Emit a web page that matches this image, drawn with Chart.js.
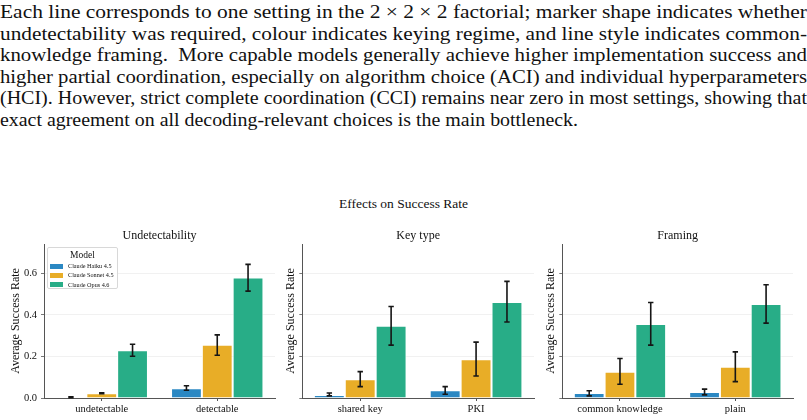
<!DOCTYPE html>
<html>
<head>
<meta charset="utf-8">
<script src="https://cdn.jsdelivr.net/npm/chart.js@4.4.1/dist/chart.umd.min.js"></script>
<style>
  body { margin: 0; width: 807px; height: 420px; background: #fff; position: relative; overflow: hidden;
         font-family: 'Liberation Serif', 'Times New Roman', serif; color: #111; }
  #caption { position: absolute; left: 0; top: 1px; width: 807px; font-size: 19.5px; line-height: 21.6px; }
  #caption div { white-space: nowrap; height: 21.6px; }
  #caption span { display: inline-block; transform-origin: 0 0; }
  #suptitle { position: absolute; left: 0; top: 196px; width: 807px; text-align: center; font-size: 13.5px; line-height: 16px; }
  canvas { position: absolute; top: 225px; }
  #legend { position: absolute; left: 47px; top: 247px; width: 71px; height: 42px; border: 1px solid #d8d8d8;
            border-radius: 2px; background: rgba(255,255,255,0.85); box-sizing: border-box; }
  #legend .ttl { position: absolute; left: 0; width: 100%; top: 2px; text-align: center; font-size: 9.5px; line-height: 11px; }
  #legend .row { position: absolute; left: 2px; height: 8px; font-size: 6.2px; line-height: 8px; white-space: nowrap; }
  #legend .sw { display: inline-block; width: 13px; height: 5px; vertical-align: -0.5px; margin-right: 5px; }
</style>
</head>
<body>
<div id="caption">
  <div><span>Each line corresponds to one setting in the 2 × 2 × 2 factorial; marker shape indicates whether</span></div>
  <div><span>undetectability was required, colour indicates keying regime, and line style indicates common-</span></div>
  <div><span>knowledge framing. &nbsp;More capable models generally achieve higher implementation success and</span></div>
  <div><span>higher partial coordination, especially on algorithm choice (ACI) and individual hyperparameters</span></div>
  <div><span>(HCI). However, strict complete coordination (CCI) remains near zero in most settings, showing that</span></div>
  <div><span>exact agreement on all decoding-relevant choices is the main bottleneck.</span></div>
</div>
<div id="suptitle">Effects on Success Rate</div>
<canvas id="undet" width="280" height="195" style="left:0px"></canvas>
<canvas id="keytype" width="265" height="195" style="left:275px"></canvas>
<canvas id="framing" width="272" height="195" style="left:535px"></canvas>
<div id="legend"><div class="ttl">Model</div></div>
<script>
const models = ['Claude Haiku 4.5', 'Claude Sonnet 4.5', 'Claude Opus 4.6'];
const modelColors = ['#2b88c3', '#e8ad27', '#28ad87'];
const yTicks = [0, 0.2, 0.4, 0.6];
const yMax = 0.742;

// Undetectability
const undetCats = ['undetectable', 'detectable'];
const undetHaiku = [0.004, 0.047];
const undetSonnet = [0.023, 0.256];
const undetOpus = [0.230, 0.580];
const undetHaikuErr = [[0.002, 0.006], [0.037, 0.059]];
const undetSonnetErr = [[0.021, 0.025], [0.206, 0.304]];
const undetOpusErr = [[0.201, 0.259], [0.515, 0.644]];

// Key type
const keyCats = ['shared key', 'PKI'];
const keyHaiku = [0.015, 0.037];
const keySonnet = [0.090, 0.187];
const keyOpus = [0.348, 0.462];
const keyHaikuErr = [[0.010, 0.024], [0.018, 0.055]];
const keySonnetErr = [[0.055, 0.127], [0.106, 0.269]];
const keyOpusErr = [[0.255, 0.441], [0.366, 0.562]];

// Framing
const frameCats = ['common knowledge', 'plain'];
const frameHaiku = [0.024, 0.029];
const frameSonnet = [0.127, 0.150];
const frameOpus = [0.357, 0.453];
const frameHaikuErr = [[0.010, 0.035], [0.015, 0.043]];
const frameSonnetErr = [[0.066, 0.190], [0.079, 0.222]];
const frameOpusErr = [[0.255, 0.460], [0.361, 0.546]];

// stretch each caption line to its width in the page (last line is short)
const lineWidths = [807, 807, 807, 807, 807, 578];
document.querySelectorAll('#caption span').forEach((s, i) => {
  s.style.transform = 'scaleX(' + (lineWidths[i] / s.getBoundingClientRect().width) + ')';
});

Chart.defaults.font.family = "'Liberation Serif', 'Times New Roman', serif";
Chart.defaults.color = '#111';

const errorBars = {
  id: 'errorBars',
  afterDatasetsDraw(chart) {
    const ctx = chart.ctx, y = chart.scales.y;
    ctx.save();
    ctx.strokeStyle = '#161616';
    ctx.lineWidth = 1.6;
    chart.data.datasets.forEach((ds, i) => {
      chart.getDatasetMeta(i).data.forEach((bar, j) => {
        const y0 = y.getPixelForValue(ds.err[j][0]);
        const y1 = y.getPixelForValue(ds.err[j][1]);
        ctx.beginPath();
        ctx.moveTo(bar.x, y0); ctx.lineTo(bar.x, y1);
        ctx.moveTo(bar.x - 2.7, y0); ctx.lineTo(bar.x + 2.7, y0);
        ctx.moveTo(bar.x - 2.7, y1); ctx.lineTo(bar.x + 2.7, y1);
        ctx.stroke();
      });
    });
    ctx.restore();
  }
};

const panelTitle = {
  id: 'panelTitle',
  afterDraw(chart, args, opts) {
    const {ctx, chartArea} = chart;
    ctx.save();
    ctx.font = "12px 'Liberation Serif', serif";
    ctx.fillStyle = '#111';
    ctx.textAlign = 'center';
    ctx.textBaseline = 'middle';
    ctx.fillText(opts.text, (chartArea.left + chartArea.right) / 2, 11);
    ctx.restore();
  }
};

function makePanel(id, title, cats, series, errs, axisW, rightPad, showLabels) {
  new Chart(document.getElementById(id), {
    type: 'bar',
    data: {
      labels: cats,
      datasets: series.map((vals, k) => ({
        label: models[k],
        data: vals,
        err: errs[k],
        backgroundColor: modelColors[k],
        borderColor: 'rgba(255,255,255,0.85)',
        borderWidth: 1,
        categoryPercentage: 0.8,
        barPercentage: 1.0
      }))
    },
    options: {
      responsive: false,
      animation: false,
      devicePixelRatio: 1,
      layout: { padding: { top: 19, right: rightPad, left: 0, bottom: 0 } },
      plugins: {
        legend: { display: false },
        tooltip: { enabled: false },
        panelTitle: { text: title }
      },
      scales: {
        x: {
          afterFit(s) { s.height = 22; },
          grid: { offset: false, drawOnChartArea: false, tickLength: 3, tickColor: '#555' },
          border: { color: '#555', width: 1 },
          ticks: { font: { size: 10.5 }, color: '#111', padding: 2 }
        },
        y: {
          min: 0,
          max: yMax,
          afterFit(s) { s.width = axisW; },
          afterBuildTicks(s) { s.ticks = yTicks.map(v => ({ value: v })); },
          ticks: { display: showLabels, font: { size: 10.5 }, color: '#111', padding: 4,
                   callback: v => v.toFixed(1) },
          grid: { color: '#eeeeee', lineWidth: 0.8, tickLength: 3, tickColor: '#555' },
          border: { color: '#555', width: 1 },
          title: { display: true, text: 'Average Success Rate', font: { size: 12 }, color: '#111',
                   padding: { top: 8.6, bottom: 0 } }
        }
      }
    },
    plugins: [errorBars, panelTitle]
  });
}

makePanel('undet', 'Undetectability', undetCats,
  [undetHaiku, undetSonnet, undetOpus], [undetHaikuErr, undetSonnetErr, undetOpusErr], 44, 5, true);
makePanel('keytype', 'Key type', keyCats,
  [keyHaiku, keySonnet, keyOpus], [keyHaikuErr, keySonnetErr, keyOpusErr], 27.3, 6, false);
makePanel('framing', 'Framing', frameCats,
  [frameHaiku, frameSonnet, frameOpus], [frameHaikuErr, frameSonnetErr, frameOpusErr], 27.3, 14, false);

// legend box inside the first panel
const legend = document.getElementById('legend');
models.forEach((m, k) => {
  const row = document.createElement('div');
  row.className = 'row';
  row.style.top = (14 + k * 9.3) + 'px';
  row.innerHTML = '<span class="sw" style="background:' + modelColors[k] + '"></span>' + m;
  legend.appendChild(row);
});
</script>
</body>
</html>
